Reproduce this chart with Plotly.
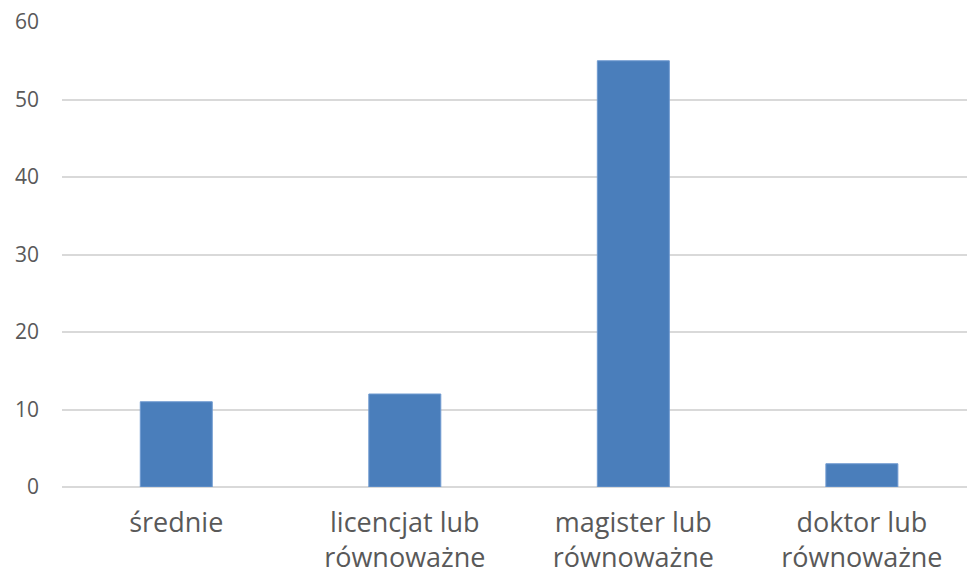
import plotly.graph_objects as go

# Wykształcenie respondentów
categories = ["średnie", "licencjat lub<br>równoważne", "magister lub<br>równoważne", "doktor lub<br>równoważne"]
values = [11, 12, 55, 3]
y_ticks = [0, 10, 20, 30, 40, 50, 60]

fig = go.Figure(
    go.Bar(
        x=categories,
        y=values,
        marker=dict(color="#4a7ebb", line=dict(color="#6f9ad0", width=1)),
    )
)

fig.update_layout(
    width=967,
    height=578,
    margin=dict(l=62, r=0, t=22, b=91, autoexpand=False),
    paper_bgcolor="white",
    plot_bgcolor="white",
    bargap=0.685,
    showlegend=False,
    font=dict(family="Open Sans", color="#595959"),
)

fig.update_xaxes(
    range=[-0.5, 3.46],
    showgrid=False,
    showline=False,
    ticks="",
    tickfont=dict(size=27),
    ticklabelstandoff=17,
    automargin=False,
)

fig.update_yaxes(
    range=[0, 60],
    tickvals=y_ticks,
    showgrid=True,
    gridcolor="#d9d9d9",
    gridwidth=1.5,
    zeroline=True,
    zerolinecolor="#d9d9d9",
    zerolinewidth=1.5,
    showline=False,
    ticks="",
    tickfont=dict(size=21),
    ticklabelstandoff=22,
    automargin=False,
)

fig.write_html("out.html")
